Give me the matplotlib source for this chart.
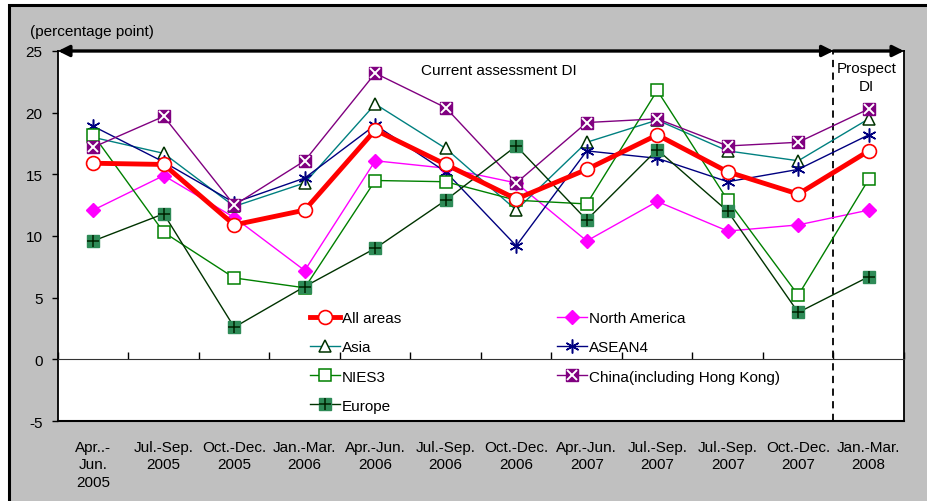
import matplotlib
matplotlib.use("Agg")
import matplotlib.pyplot as plt
from matplotlib.patches import Rectangle
import numpy as np

plt.rcParams["font.family"] = ["Liberation Sans", "DejaVu Sans"]
plt.rcParams["font.size"] = 11
plt.rcParams["axes.unicode_minus"] = False

periods = [
    "Apr..-\nJun.\n2005", "Jul.-Sep.\n2005", "Oct.-Dec.\n2005", "Jan.-Mar.\n2006",
    "Apr.-Jun.\n2006", "Jul.-Sep.\n2006", "Oct.-Dec.\n2006", "Apr.-Jun.\n2007",
    "Jul.-Sep.\n2007", "Jul.-Sep.\n2007", "Oct.-Dec.\n2007", "Jan.-Mar.\n2008",
]

all_areas = [15.9, 15.8, 10.9, 12.1, 18.6, 15.8, 13.0, 15.4, 18.2, 15.2, 13.4, 16.9]
north_america = [12.1, 14.9, 11.5, 7.2, 16.1, 15.5, 14.3, 9.6, 12.8, 10.4, 10.9, 12.1]
asia = [18.0, 16.7, 12.4, 14.3, 20.7, 17.1, 12.1, 17.6, 19.4, 16.9, 16.1, 19.5]
asean4 = [18.9, 16.0, 12.7, 14.7, 19.0, 15.2, 9.2, 16.9, 16.3, 14.4, 15.4, 18.2]
nies3 = [18.2, 10.3, 6.6, 5.8, 14.5, 14.4, 12.9, 12.6, 21.8, 12.9, 5.2, 14.6]
china = [17.2, 19.7, 12.5, 16.1, 23.2, 20.4, 14.3, 19.2, 19.5, 17.3, 17.6, 20.3]
europe = [9.6, 11.8, 2.6, 5.9, 9.0, 12.9, 17.3, 11.3, 17.0, 12.0, 3.8, 6.7]

W, H = 928, 502
fig = plt.figure(figsize=(W / 100, H / 100), dpi=100)
fig.patch.set_facecolor("white")

# grey chart frame running off the right and bottom edges
fig.patches.append(Rectangle((9 / W, -0.05), 1.1, 1 - 6 / H + 0.05,
                             transform=fig.transFigure, facecolor="#c0c0c0",
                             edgecolor="black", linewidth=2.2, zorder=-10))

ax = fig.add_axes([58 / W, 1 - 422 / H, (904 - 58) / W, (422 - 52) / H])
ax.set_facecolor("white")
x = np.arange(len(periods))

ax.plot(x, north_america, color="#ff00ff", lw=1, marker="D", ms=7.5,
        mfc="#ff00ff", mec="#ff00ff", zorder=3, label="North America")
ax.plot(x, asia, color="#008080", lw=1, marker="^", ms=9, mfc="white",
        mec="#003300", mew=1.1, zorder=3, label="Asia")
ax.plot(x, asean4, color="#000080", lw=1, marker=(6, 2, 0), ms=10,
        mec="#000080", mew=1.1, zorder=3, label="ASEAN4")
ax.plot(x, nies3, color="#008000", lw=1, marker="s", ms=9, mfc="white",
        mec="#008000", mew=1.1, zorder=3, label="NIES3")
china_line, = ax.plot(x, china, color="#800080", lw=1, marker="s", ms=9,
                      mfc="#800080", mec="#800080", zorder=3)
china_x, = ax.plot(x, china, ls="none", marker="x", ms=7, mec="white", mew=1.4, zorder=3)
europe_line, = ax.plot(x, europe, color="#003300", lw=1, marker="s", ms=9,
                       mfc="#2e8b57", mec="#2e8b57", zorder=3)
europe_p, = ax.plot(x, europe, ls="none", marker="+", ms=9, mec="#002200", mew=1.1, zorder=3)
all_line, = ax.plot(x, all_areas, color="#ff0000", lw=3.5, marker="o", ms=10,
                    mfc="white", mec="#ff0000", mew=1.2, zorder=4)

ax.set_xlim(-0.5, len(periods) - 0.5)
ax.set_ylim(-5, 25)
ax.set_yticks(np.arange(-5, 26, 5))
ax.tick_params(axis="y", direction="out", length=4, width=1, pad=7, labelsize=11)

# category axis sits on the zero line, with boundary ticks pointing up
ax.spines["bottom"].set_position(("data", 0))
ax.spines["bottom"].set_color("#333333")
ax.set_xticks(np.arange(-0.5, len(periods), 1))
ax.tick_params(axis="x", direction="in", length=5, width=1, labelbottom=False)
for side in ["left", "right", "top"]:
    ax.spines[side].set_linewidth(1.3)

sec = ax.secondary_xaxis("bottom")
sec.set_xticks(x, periods)
sec.tick_params(length=0, pad=13.5, labelsize=11)
sec.spines["bottom"].set_linewidth(1.5)
for lbl in sec.get_xticklabels():
    lbl.set_linespacing(1.32)

# assessment / prospect split
ax.axvline(len(periods) - 1.5, color="black", ls=(0, (4, 3)), lw=1.3, zorder=2)
ax.annotate("", xy=(-0.5, 25), xytext=(len(periods) - 1.5, 25),
            arrowprops=dict(arrowstyle="<|-|>,head_length=0.6,head_width=0.3",
                            color="black", lw=2.4, shrinkA=0, shrinkB=0),
            annotation_clip=False, zorder=5)
ax.annotate("", xy=(len(periods) - 0.5, 25), xytext=(len(periods) - 1.5, 25),
            arrowprops=dict(arrowstyle="-|>,head_length=0.6,head_width=0.3",
                            color="black", lw=2.4, shrinkA=0, shrinkB=0),
            annotation_clip=False, zorder=5)
ax.text(0.521, 0.949, "Current assessment DI", transform=ax.transAxes,
        ha="center", va="center", fontsize=11)
ax.text(0.956, 0.973, "Prospect\nDI", transform=ax.transAxes,
        ha="center", va="top", fontsize=11, linespacing=1.32)

fig.text(30 / W, 1 - 32 / H, "(percentage point)", ha="left", va="center", fontsize=11)

handles = [all_line,
           ax.lines[1], ax.lines[3], (europe_line, europe_p),
           ax.lines[0], ax.lines[2], (china_line, china_x)]
labels = ["All areas", "Asia", "NIES3", "Europe",
          "North America", "ASEAN4", "China(including Hong Kong)"]
ax.legend(handles, labels, ncol=2, frameon=False, loc="upper left",
          bbox_to_anchor=(310 / W, 1 - 312 / H), bbox_transform=fig.transFigure,
          borderpad=0, borderaxespad=0, handlelength=1.95, handletextpad=0.15,
          columnspacing=10.2, labelspacing=1.0, fontsize=11)

fig.savefig("out.png", dpi=100)
